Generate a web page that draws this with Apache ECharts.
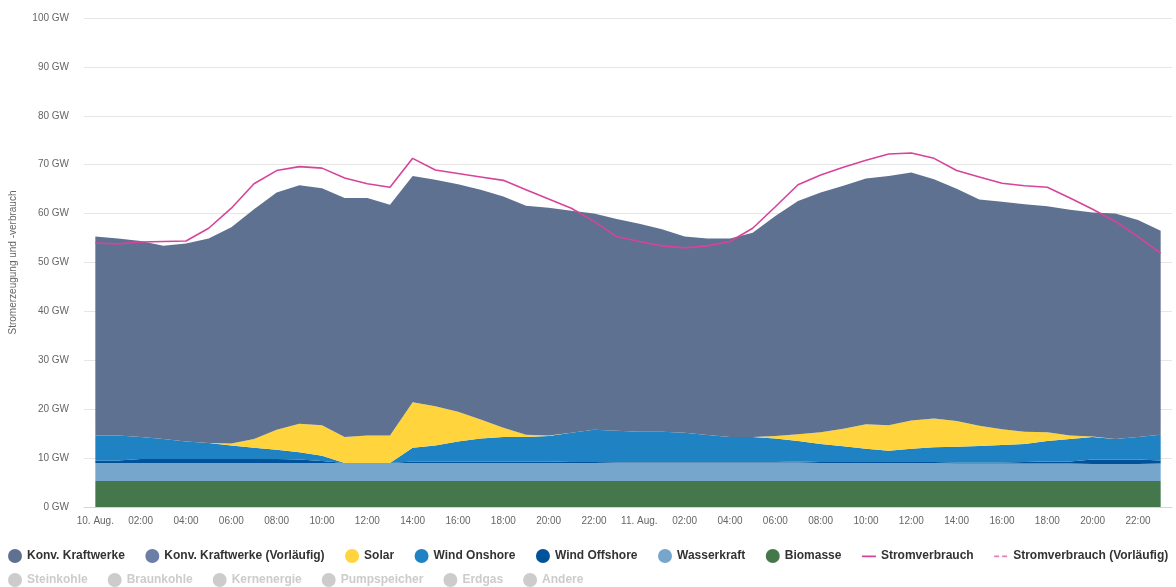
<!DOCTYPE html>
<html>
<head>
<meta charset="utf-8">
<title>Stromerzeugung</title>
<script src="https://cdn.jsdelivr.net/npm/echarts@6/dist/echarts.min.js"></script>
<style>
	html, body { margin: 0; padding: 0; background: #fff; }
	#chart { width: 1176px; height: 587px; }
</style>
</head>
<body>
<div id="chart"></div>
<script>
// Stunden vom 10. Aug. 00:00 bis 11. Aug. 23:00
var hours = [
	"10. Aug.", "01:00", "02:00", "03:00", "04:00", "05:00", "06:00", "07:00",
	"08:00", "09:00", "10:00", "11:00", "12:00", "13:00", "14:00", "15:00",
	"16:00", "17:00", "18:00", "19:00", "20:00", "21:00", "22:00", "23:00",
	"11. Aug.", "01:00", "02:00", "03:00", "04:00", "05:00", "06:00", "07:00",
	"08:00", "09:00", "10:00", "11:00", "12:00", "13:00", "14:00", "15:00",
	"16:00", "17:00", "18:00", "19:00", "20:00", "21:00", "22:00", "23:00"
];

var biomasse = [
	5.3, 5.3, 5.3, 5.3, 5.3, 5.3, 5.3, 5.3, 5.3, 5.3, 5.3, 5.3, 5.3, 5.3, 5.3, 5.3,
	5.3, 5.3, 5.3, 5.3, 5.3, 5.3, 5.3, 5.3, 5.3, 5.3, 5.3, 5.3, 5.3, 5.3, 5.3, 5.3,
	5.3, 5.3, 5.3, 5.3, 5.3, 5.3, 5.3, 5.3, 5.3, 5.3, 5.3, 5.3, 5.3, 5.3, 5.3, 5.3
];
var wasserkraft = [
	3.7, 3.7, 3.7, 3.7, 3.7, 3.7, 3.7, 3.7, 3.7, 3.7, 3.7, 3.7, 3.7, 3.7, 3.7, 3.7,
	3.7, 3.7, 3.7, 3.7, 3.7, 3.7, 3.7, 3.8, 3.8, 3.8, 3.8, 3.8, 3.8, 3.8, 3.8, 3.8,
	3.7, 3.7, 3.7, 3.7, 3.7, 3.7, 3.6, 3.6, 3.6, 3.6, 3.6, 3.6, 3.5, 3.5, 3.5, 3.6
];
var windOffshore = [
	0.5, 0.5, 0.8, 0.8, 0.8, 0.8, 0.8, 0.8, 0.8, 0.7, 0.4, 0.0, 0.0, 0.0, 0.3, 0.3,
	0.3, 0.3, 0.3, 0.3, 0.3, 0.2, 0.2, 0.1, 0.1, 0.1, 0.1, 0.1, 0.1, 0.1, 0.1, 0.2,
	0.2, 0.2, 0.2, 0.2, 0.2, 0.2, 0.2, 0.2, 0.2, 0.3, 0.4, 0.4, 0.9, 0.9, 0.9, 0.6
];
var windOnshore = [
	5.1, 5.1, 4.5, 4.1, 3.6, 3.3, 2.8, 2.3, 1.9, 1.5, 1.1, 0.0, 0.0, 0.0, 2.8, 3.3,
	4.1, 4.7, 5.0, 5.0, 5.2, 6.0, 6.6, 6.4, 6.2, 6.2, 6.0, 5.5, 5.1, 5.1, 4.8, 4.2,
	3.7, 3.2, 2.7, 2.3, 2.7, 3.0, 3.2, 3.4, 3.6, 3.7, 4.2, 4.6, 4.6, 4.2, 4.6, 5.3
];
var solar = [
	0.0, 0.0, 0.0, 0.0, 0.0, 0.0, 0.4, 1.8, 4.1, 5.8, 6.2, 5.3, 5.6, 5.6, 9.3, 8.0,
	6.1, 3.9, 1.9, 0.5, 0.1, 0.0, 0.0, 0.0, 0.0, 0.0, 0.0, 0.0, 0.0, 0.0, 0.5, 1.4,
	2.4, 3.6, 5.0, 5.2, 5.8, 5.9, 5.3, 4.1, 3.2, 2.5, 1.8, 0.7, 0.1, 0.0, 0.0, 0.0
];
var konvKraftwerke = [
	40.7, 40.3, 40.1, 39.5, 40.5, 41.8, 44.2, 47.0, 48.5, 48.8, 48.5, 48.9, 48.6, 47.2, 46.3, 46.3,
	46.5, 47.0, 47.3, 46.8, 46.6, 45.4, 44.2, 43.3, 42.5, 41.4, 40.1, 40.2, 40.6, 41.8, 45.0, 47.7,
	49.0, 49.7, 50.3, 51.0, 50.7, 48.9, 47.5, 46.3, 46.5, 46.5, 46.2, 46.2, 45.8, 46.1, 44.4, 41.7
];
var stromverbrauch = [
	54.0, 53.8, 54.2, 54.3, 54.4, 57.0, 61.1, 66.1, 68.8, 69.6, 69.3, 67.3, 66.1, 65.4, 71.3, 68.9,
	68.2, 67.5, 66.8, 64.9, 63.0, 61.1, 58.4, 55.3, 54.3, 53.4, 53.0, 53.4, 54.3, 57.0, 61.4, 65.9,
	67.9, 69.5, 70.9, 72.2, 72.4, 71.3, 68.8, 67.5, 66.2, 65.7, 65.4, 63.2, 60.9, 58.4, 55.3, 51.9
];
var yTicks = [0, 10, 20, 30, 40, 50, 60, 70, 80, 90, 100];
var hiddenSources = ["Steinkohle", "Braunkohle", "Kernenergie", "Pumpspeicher", "Erdgas", "Andere"];

var colors = {
	"Konv. Kraftwerke": "#5f7190",
	"Konv. Kraftwerke (Vorläufig)": "#6a7ea6",
	"Solar": "#ffd43d",
	"Wind Onshore": "#1f82c2",
	"Wind Offshore": "#00539a",
	"Wasserkraft": "#76a6cc",
	"Biomasse": "#44774b",
	"Stromverbrauch": "#d6449a",
	"Stromverbrauch (Vorläufig)": "#e37fb8"
};

// Legendensymbole fuer Linien (winzige Eckpunkte halten die Box 14x14)
var lineIcon = "path://M0,0h0.05v0.05h-0.05z M0,6.5h14v1.8h-14z M13.95,13.95h0.05v0.05h-0.05z";
var dashIcon = "path://M0,0h0.05v0.05h-0.05z M0,6.5h5v1.8h-5z M8,6.5h5v1.8h-5z M13.95,13.95h0.05v0.05h-0.05z";

function areaSeries(name, data) {
	return {
		name: name,
		type: "line",
		stack: "erzeugung",
		data: data,
		symbol: "none",
		showSymbol: false,
		color: colors[name],
		lineStyle: { width: 0 },
		areaStyle: { color: colors[name], opacity: 1 },
		emphasis: { disabled: true },
		z: 2
	};
}

var series = [
	areaSeries("Biomasse", biomasse),
	areaSeries("Wasserkraft", wasserkraft),
	areaSeries("Wind Offshore", windOffshore),
	areaSeries("Wind Onshore", windOnshore),
	areaSeries("Solar", solar),
	areaSeries("Konv. Kraftwerke", konvKraftwerke),
	areaSeries("Konv. Kraftwerke (Vorläufig)", []),
	{
		name: "Stromverbrauch",
		type: "line",
		data: stromverbrauch,
		symbol: "none",
		color: colors["Stromverbrauch"],
		lineStyle: { width: 1.6, color: colors["Stromverbrauch"] },
		emphasis: { disabled: true },
		z: 5
	},
	{
		name: "Stromverbrauch (Vorläufig)",
		type: "line",
		data: [],
		symbol: "none",
		color: colors["Stromverbrauch (Vorläufig)"],
		lineStyle: { width: 1.6, type: [4, 3], color: colors["Stromverbrauch (Vorläufig)"] },
		z: 5
	}
];

hiddenSources.forEach(function (name) {
	series.push({ name: name, type: "line", stack: "erzeugung", data: [], symbol: "none", color: "#999" });
});

var circleNames = ["Konv. Kraftwerke", "Konv. Kraftwerke (Vorläufig)", "Solar", "Wind Onshore",
	"Wind Offshore", "Wasserkraft", "Biomasse"];
var legendRow1 = circleNames.map(function (n) {
	return { name: n, icon: "circle" };
});
legendRow1.push({ name: "Stromverbrauch", icon: lineIcon });
legendRow1.push({ name: "Stromverbrauch (Vorläufig)", icon: dashIcon });

var hiddenSelected = {};
hiddenSources.forEach(function (n) {
	hiddenSelected[n] = false;
});

var legendText = {
	fontFamily: "Liberation Sans, Arial, sans-serif",
	fontSize: 12,
	fontWeight: "bold",
	color: "#333"
};

var chart = echarts.init(document.getElementById("chart"), null, { renderer: "canvas" });
chart.setOption({
	animation: false,
	backgroundColor: "#fff",
	textStyle: { fontFamily: "Liberation Sans, Arial, sans-serif" },
	grid: { left: 80, right: 4, top: 18, bottom: 80, containLabel: false },
	legend: [
		{
			data: legendRow1,
			left: 8,
			top: 549,
			width: 1168,
			padding: 0,
			itemWidth: 14,
			itemHeight: 14,
			itemGap: 20.5,
			textStyle: legendText
		},
		{
			data: hiddenSources.map(function (n) { return { name: n, icon: "circle" }; }),
			selected: hiddenSelected,
			left: 8,
			top: 573,
			padding: 0,
			itemWidth: 14,
			itemHeight: 14,
			itemGap: 20,
			inactiveColor: "#cccccc",
			textStyle: legendText
		}
	],
	xAxis: {
		type: "category",
		data: hours,
		boundaryGap: true,
		axisLine: { lineStyle: { color: "#ccd6eb", width: 1 } },
		axisTick: {
			alignWithLabel: true,
			interval: 1,
			length: 8,
			lineStyle: { color: "#ccd6eb" }
		},
		axisLabel: {
			interval: 1,
			margin: 9,
			fontSize: 10,
			color: "#666"
		},
		splitLine: { show: false }
	},
	yAxis: {
		type: "value",
		min: yTicks[0],
		max: yTicks[yTicks.length - 1],
		interval: 10,
		name: "Stromerzeugung und -verbrauch",
		nameLocation: "middle",
		nameRotate: 90,
		nameGap: 66,
		nameTextStyle: { fontSize: 10, color: "#666" },
		axisLine: { show: false },
		axisTick: { show: false },
		axisLabel: {
			margin: 15,
			fontSize: 10,
			color: "#666",
			formatter: "{value} GW"
		},
		splitLine: { lineStyle: { color: "#e6e6e6", width: 1 } }
	},
	series: series
});
</script>
</body>
</html>
